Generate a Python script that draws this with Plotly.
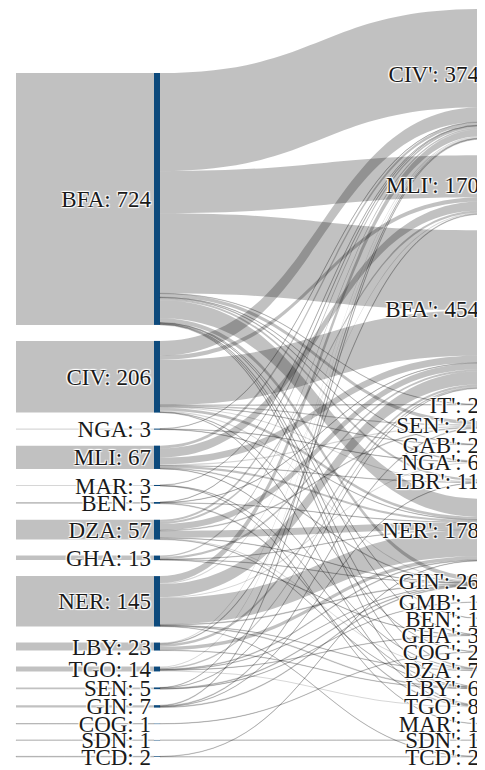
import plotly.graph_objects as go

# ---------------- data ----------------
left_names = ["BFA", "CIV", "NGA", "MLI", "MAR", "BEN", "DZA", "GHA", "NER",
              "LBY", "TGO", "SEN", "GIN", "COG", "SDN", "TCD"]
left_totals = [724, 206, 3, 67, 3, 5, 57, 13, 145, 23, 14, 5, 7, 1, 1, 2]

right_names = ["CIV'", "MLI'", "BFA'", "IT'", "SEN'", "GAB'", "NGA'", "LBR'",
               "NER'", "GIN'", "GMB'", "BEN'", "GHA'", "COG'", "DZA'", "LBY'",
               "TGO'", "MAR'", "SDN'", "TCD'"]
right_totals = [374, 170, 454, 2, 21, 2, 6, 11, 178, 26, 1, 1, 3, 2, 7, 6, 8, 1, 1, 2]

flow_source = ["BFA"] * 15 + ["CIV"] * 11 + ["NGA"] * 3 + ["MLI"] * 8 + ["MAR"] * 3 \
    + ["BEN"] * 4 + ["DZA"] * 8 + ["GHA"] * 5 + ["NER"] * 9 + ["LBY"] * 5 \
    + ["TGO"] * 6 + ["SEN"] * 4 + ["GIN"] * 4 + ["COG"] + ["SDN"] + ["TCD"] * 2
flow_target = [
    # BFA
    "CIV'", "MLI'", "BFA'", "IT'", "SEN'", "GAB'", "NGA'", "LBR'", "NER'", "GIN'",
    "BEN'", "GHA'", "DZA'", "LBY'", "TGO'",
    # CIV
    "CIV'", "MLI'", "BFA'", "IT'", "SEN'", "GAB'", "LBR'", "NER'", "GIN'", "COG'", "TGO'",
    # NGA
    "CIV'", "NGA'", "NER'",
    # MLI
    "CIV'", "MLI'", "BFA'", "SEN'", "LBR'", "NER'", "GIN'", "DZA'",
    # MAR
    "CIV'", "MAR'", "LBY'",
    # BEN
    "CIV'", "BFA'", "NER'", "TGO'",
    # DZA
    "CIV'", "MLI'", "BFA'", "SEN'", "NER'", "GIN'", "DZA'", "LBY'",
    # GHA
    "CIV'", "BFA'", "NER'", "GIN'", "GHA'",
    # NER
    "CIV'", "MLI'", "BFA'", "NGA'", "NER'", "GIN'", "DZA'", "LBY'", "TCD'",
    # LBY
    "CIV'", "MLI'", "BFA'", "NER'", "LBY'",
    # TGO
    "CIV'", "BFA'", "GIN'", "GHA'", "TGO'", "NER'",
    # SEN
    "CIV'", "BFA'", "GIN'", "GMB'",
    # GIN
    "CIV'", "SEN'", "LBR'", "GIN'",
    # COG, SDN, TCD
    "COG'", "SDN'", "NER'", "TCD'",
]
flow_value = [
    282, 121, 230, 1, 10, 1, 2, 6, 52, 12, 1, 1, 2, 1, 2,
    42, 12, 130, 1, 4, 1, 3, 8, 3, 1, 1,
    1, 1, 1,
    8, 26, 20, 3, 1, 6, 2, 1,
    1, 1, 1,
    1, 1, 1, 2,
    6, 6, 18, 2, 20, 1, 3, 1,
    4, 6, 1, 1, 1,
    20, 3, 37, 3, 76, 2, 1, 2, 1,
    3, 2, 7, 10, 1,
    3, 4, 1, 1, 3, 2,
    1, 1, 2, 1,
    2, 2, 1, 2,
    1, 1, 1, 1,
]

# ---------------- layout / style ----------------
FIG_W, FIG_H = 477, 762
MARGIN = dict(l=0, r=0, t=1, b=13)
PAD = 16
THICK = 6
NODE_BLUE = "#0d4a7c"
LINK_GREY = "rgba(0,0,0,0.245)"
THIN_GREY = "rgba(0,0,0,0.16)"
CLEAR = "rgba(0,0,0,0)"
FONT = dict(family="Liberation Serif, Times New Roman, serif", size=23, color="#1a1a1a")

plot_w = FIG_W - MARGIN["l"] - MARGIN["r"]
plot_h = FIG_H - MARGIN["t"] - MARGIN["b"]
total = sum(right_totals)
n_left = len(left_names)
n_right = len(right_names)
ky = (plot_h - (n_right - 1) * PAD) / total
# padding for the left pair of columns chosen so both traces share one value scale
PAD_LEFT = (plot_h - ky * total) / (n_left - 1)


def column_centres(vals, bottom_aligned):
    heights = [v * ky for v in vals]
    span = sum(heights) + (len(vals) - 1) * PAD
    y = plot_h - span if bottom_aligned else 0.0
    out = []
    for h in heights:
        out.append((y + h / 2) / plot_h)
        y += h + PAD
    return out


def link_colour(v):
    return THIN_GREY if v <= 3 else LINK_GREY


x_col0 = (8 - THICK / 2) / plot_w      # entry stubs (invisible nodes)
x_col1 = 149 / plot_w                  # origin countries
x_col2 = 1.0                           # destinations (nodes at the right edge)

left_y = column_centres(left_totals, True)
right_y = column_centres(right_totals, False)
left_labels = [f"{n}: {v}" for n, v in zip(left_names, left_totals)]
right_labels = [f"{n}: {v}" for n, v in zip(right_names, right_totals)]

# --- trace A: entry stubs -> origins (origins are the last column, labels on the left)
trace_a = go.Sankey(
    arrangement="fixed",
    node=dict(
        label=[""] * n_left + left_labels,
        x=[x_col0] * n_left + [x_col1] * n_left,
        y=left_y + left_y,
        pad=PAD_LEFT,
        thickness=THICK,
        color=[CLEAR] * n_left + [NODE_BLUE] * n_left,
        line=dict(width=0),
    ),
    link=dict(
        source=list(range(n_left)),
        target=[n_left + i for i in range(n_left)],
        value=list(left_totals),
        color=[link_colour(v) for v in left_totals],
        line=dict(width=0),
    ),
    textfont=FONT,
)

# --- trace B: origins -> destinations
idx_left = {n: i for i, n in enumerate(left_names)}
idx_right = {n: n_left + i for i, n in enumerate(right_names)}
trace_b = go.Sankey(
    arrangement="fixed",
    node=dict(
        label=[""] * n_left + right_labels,
        x=[x_col1] * n_left + [x_col2] * n_right,
        y=left_y + right_y,
        pad=PAD,
        thickness=THICK,
        color=[CLEAR] * (n_left + n_right),
        line=dict(width=0),
    ),
    link=dict(
        source=[idx_left[s] for s in flow_source],
        target=[idx_right[t] for t in flow_target],
        value=flow_value,
        color=[link_colour(v) for v in flow_value],
        line=dict(width=0),
    ),
    textfont=FONT,
)

fig = go.Figure([trace_a, trace_b])
fig.update_layout(
    width=FIG_W,
    height=FIG_H,
    margin=MARGIN,
    paper_bgcolor="white",
    plot_bgcolor="white",
    showlegend=False,
)

fig.write_html("out.html")
